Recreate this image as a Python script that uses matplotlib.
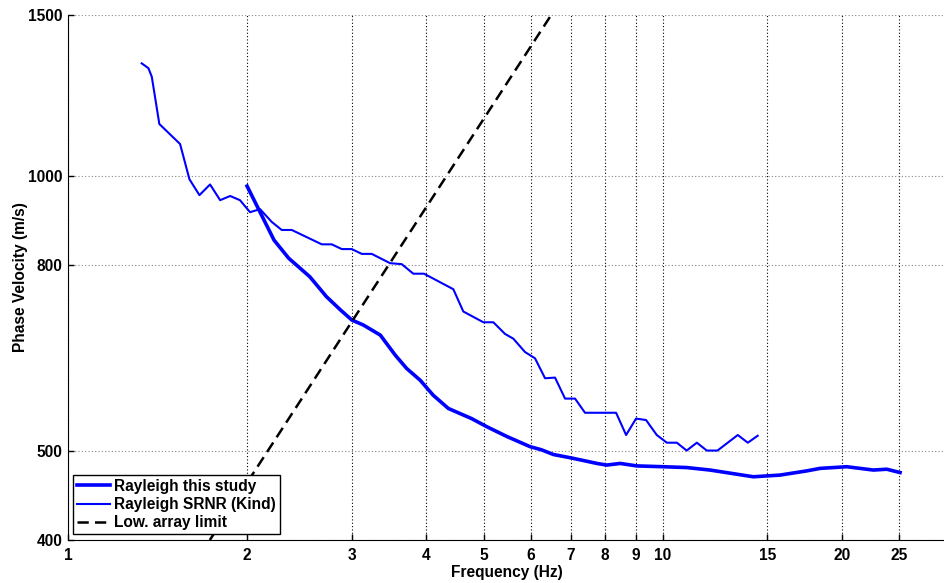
import numpy as np
import matplotlib
matplotlib.use("Agg")
import matplotlib.pyplot as plt
from matplotlib.ticker import FixedLocator, NullLocator, FixedFormatter

plt.rcParams['font.family'] = ['Liberation Sans', 'DejaVu Sans']
plt.rcParams['font.weight'] = 'bold'

# dispersion curve from this study
f_study = [2.00, 2.22, 2.35, 2.55, 2.72, 2.87, 3.00, 3.14, 3.35, 3.55, 3.71, 3.91,
           4.11, 4.36, 4.77, 5.06, 5.47, 5.98, 6.25, 6.55, 6.99, 7.31, 7.75, 8.05,
           8.48, 9.04, 10.02, 10.97, 12.01, 14.20, 15.75, 17.47, 18.39, 20.39,
           22.60, 23.80, 25.06]
v_study = [975, 851, 813, 776, 738, 714, 696, 687, 670, 637, 616, 598,
           576, 557, 543, 532, 519, 506, 502, 496, 492, 489, 485, 483,
           485, 482, 481, 480, 477, 469, 471, 476, 479, 481,
           477, 478, 474]

# SRNR curve (Kind)
f_srnr = [1.330, 1.365, 1.383, 1.424, 1.543, 1.600, 1.663, 1.733, 1.802, 1.873,
          1.946, 2.023, 2.103, 2.200, 2.287, 2.378, 2.671, 2.776, 2.886, 2.999,
          3.118, 3.241, 3.479, 3.640, 3.807, 3.968, 4.445, 4.620, 4.993, 5.190,
          5.429, 5.607, 5.867, 6.098, 6.340, 6.590, 6.850, 7.120, 7.401, 8.347,
          8.677, 9.018, 9.374, 9.770, 10.16, 10.56, 10.97, 11.41, 11.86, 12.36,
          13.37, 13.90, 14.44]
v_srnr = [1328, 1312, 1284, 1140, 1084, 992, 953, 979, 941, 951,
          941, 913, 920, 891, 873, 873, 842, 842, 832, 832,
          822, 822, 803, 801, 782, 782, 752, 711, 692, 692,
          672, 664, 642, 632, 601, 602, 571, 571, 551, 551,
          521, 543, 541, 521, 511, 511, 501, 511, 501, 501,
          521, 511, 520]

# lower array resolution limit: v = wavelength * f
f_limit = [1.0, 30.0]
wavelength = 231.0

x_ticks = [1, 2, 3, 4, 5, 6, 7, 8, 9, 10, 15, 20, 25]
y_ticks = [400, 500, 800, 1000, 1500]

fig = plt.figure(figsize=(9.45, 5.83), dpi=100)
ax = fig.add_axes([0.072, 0.0738, 0.9296, 0.9005])

ax.plot(f_study, v_study, color=(0, 0, 1), lw=2.6, label='Rayleigh this study', zorder=3)
ax.plot(f_srnr, v_srnr, color=(0, 0, 1), lw=1.5, label='Rayleigh SRNR (Kind)', zorder=3)
ax.plot(f_limit, [wavelength * f for f in f_limit], color='black', lw=1.8,
        ls=(0, (4.5, 2.5)), label='Low. array limit', zorder=3)

ax.set_xscale('log')
ax.set_yscale('log')
ax.set_xlim(1, 30)
ax.set_ylim(400, 1500)

ax.xaxis.set_major_locator(FixedLocator(x_ticks))
ax.xaxis.set_major_formatter(FixedFormatter([str(t) for t in x_ticks]))
ax.xaxis.set_minor_locator(NullLocator())
ax.yaxis.set_major_locator(FixedLocator(y_ticks))
ax.yaxis.set_major_formatter(FixedFormatter([str(t) for t in y_ticks]))
ax.yaxis.set_minor_locator(NullLocator())

ax.tick_params(direction='in', length=4, width=1, labelsize=11.2)
ax.tick_params(axis='x', pad=6)
ax.tick_params(axis='y', pad=4)
for lbl in ax.get_xticklabels() + ax.get_yticklabels():
    lbl.set_fontweight('bold')

ax.grid(axis='x', color='black', ls=(0, (1, 2)), lw=0.8)
ax.grid(axis='y', color='#888888', ls=(0, (1, 2)), lw=0.8)

ax.spines['top'].set_visible(False)
ax.spines['right'].set_visible(False)

ax.set_xlabel('Frequency (Hz)', fontsize=11.2, fontweight='bold', labelpad=1)
ax.set_ylabel('Phase Velocity (m/s)', fontsize=11.2, fontweight='bold', labelpad=0)

leg = ax.legend(loc='lower left', bbox_to_anchor=(0.0057, 0.0114), borderaxespad=0,
                fancybox=False, edgecolor='black', framealpha=1, fontsize=11.2,
                handlelength=2.1, labelspacing=0.2, borderpad=0.25, handletextpad=0.3)
leg.get_frame().set_linewidth(1.0)
for t in leg.get_texts():
    t.set_fontweight('bold')

fig.savefig('out.png', dpi=100)
